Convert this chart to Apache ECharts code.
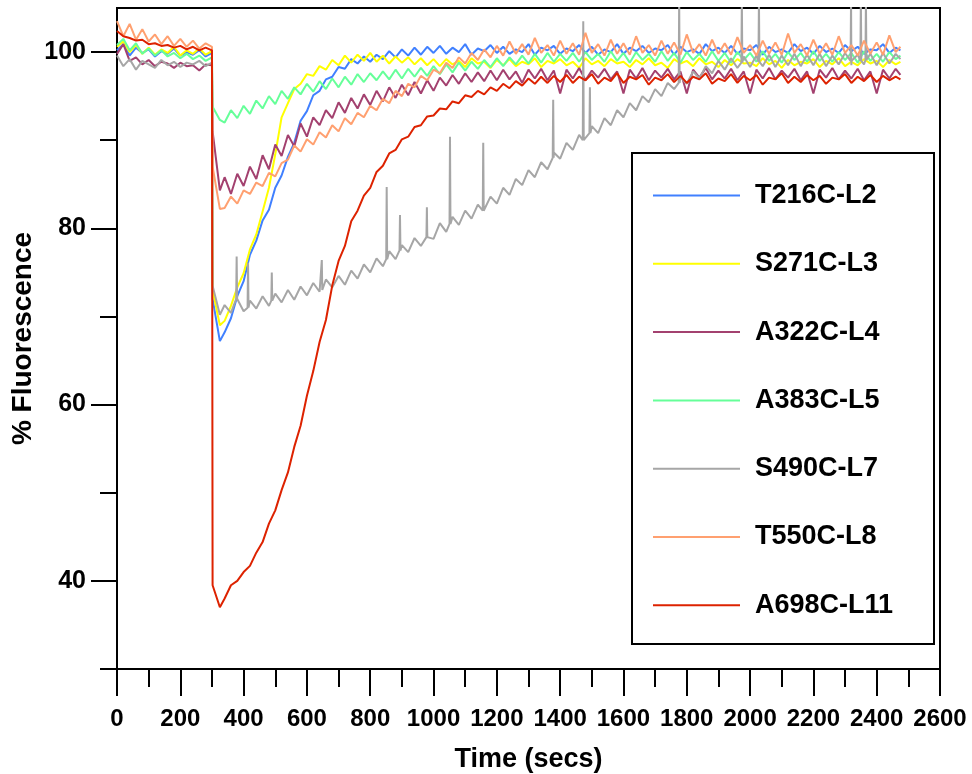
<!DOCTYPE html>
<html>
<head>
<meta charset="utf-8">
<script src="https://cdn.jsdelivr.net/npm/echarts@6/dist/echarts.min.js"></script>
<style>
html,body{margin:0;padding:0;background:#fff;}
#chart{width:972px;height:774px;}
</style>
</head>
<body>
<div id="chart"></div>
<script>
// Sample times (secs)
const times = [0,20,40,60,80,100,120,140,160,180,200,220,240,260,280,300,302,325,
340,360,380,400,420,440,460,480,500,520,540,560,580,600,620,640,660,680,700,720,740,760,780,800,820,840,860,880,900,920,940,960,980,1000,
1020,1040,1060,1080,1100,1120,1140,1160,1180,1200,1220,1240,1260,1280,1300,1320,1340,1360,1380,1400,
1420,1440,1460,1480,1500,1520,1540,1560,1580,1600,1620,1640,1660,1680,1700,1720,1740,1760,1780,1800,
1820,1840,1860,1880,1900,1920,1940,1960,1980,2000,2020,2040,2060,2080,2100,2120,2140,2160,2180,2200,
2220,2240,2260,2280,2300,2320,2340,2360,2380,2400,2420,2440,2460,2475];

const seriesNames = ['T216C-L2','S271C-L3','A322C-L4','A383C-L5','S490C-L7','T550C-L8','A698C-L11'];

const T216C = [100.2,100.9,99.6,100.5,99.9,100.3,99.5,100.1,99.8,100.4,99.6,100.0,99.7,100.2,99.5,99.9,
72.0,67.2,
68.2,69.8,72.3,74.0,77.0,78.6,80.9,82.1,84.6,86.0,
88.1,89.7,92.2,93.3,95.1,95.6,96.9,97.2,98.3,98.1,
99.2,98.7,99.5,98.9,99.7,99.2,100.1,99.4,100.3,99.6,
100.5,99.7,100.6,99.9,
100.7,99.8,100.5,100.0,100.9,99.7,100.4,100.1,100.8,99.9,100.6,99.8,100.3,100.0,100.9,99.7,100.5,100.2,100.7,99.8,
100.4,100.1,100.8,99.9,100.6,99.7,100.3,100.0,100.9,99.8,100.5,100.1,100.7,99.9,100.4,100.2,100.8,99.7,100.6,100.0,
100.3,99.8,100.9,100.1,100.5,99.9,100.7,99.8,100.4,100.2,100.8,99.7,100.6,100.0,100.3,99.9,100.9,100.1,100.5,99.8,
100.7,100.0,100.4,99.9,100.8,100.1,100.6,99.8,100.3,100.2,100.9,99.9,100.5,
100.2];

const S271C = [100.6,101.2,100.0,100.8,99.8,100.5,99.7,100.3,99.9,100.6,99.6,100.2,99.8,100.4,99.7,100.1,
73.0,69.0,
69.5,71.2,73.3,74.9,77.6,79.3,81.9,84.6,88.4,92.6,
94.2,95.8,96.4,97.5,97.3,98.4,98.0,99.1,98.5,99.6,
98.8,99.7,99.0,99.9,98.9,99.6,98.7,99.5,98.8,99.4,
98.6,99.3,98.5,99.2,
98.4,99.2,98.6,99.0,98.3,99.3,98.7,98.9,98.2,99.1,98.5,99.2,98.4,98.9,98.6,99.3,98.3,99.0,98.7,99.2,
98.5,98.9,98.2,99.3,98.6,99.0,98.4,99.2,98.7,98.9,98.3,99.1,98.6,99.3,98.5,98.8,98.2,99.2,98.7,99.0,
98.4,99.3,98.6,98.9,98.3,99.1,98.5,99.2,98.7,98.8,98.4,99.3,98.6,99.0,98.2,99.1,98.5,98.9,98.7,99.2,
98.3,99.0,98.6,99.3,98.4,98.9,98.5,99.2,98.7,99.0,98.3,99.1,98.6,
98.9];

const A322C = [99.8,100.9,99.0,99.4,98.6,99.1,98.4,98.9,98.7,98.2,98.8,98.4,98.5,97.9,98.6,98.5,
91.0,84.3,
85.8,83.9,86.2,84.8,87.0,85.6,88.3,86.7,89.5,88.2,
90.6,89.3,91.9,90.4,92.6,91.7,93.4,92.5,94.3,93.1,
94.8,93.6,95.2,94.0,95.6,94.4,96.0,94.8,96.3,95.1,
96.6,95.3,96.8,95.6,
97.1,96.2,97.4,96.4,97.6,96.6,97.7,96.7,97.9,96.8,98.0,96.9,97.8,96.5,98.0,97.0,98.1,96.8,97.9,95.3,
98.0,97.0,98.2,96.8,97.9,97.1,98.1,96.9,97.8,95.3,98.0,97.0,98.2,96.8,97.9,97.1,98.1,96.9,97.8,95.3,
98.0,97.1,98.2,96.9,97.9,97.0,98.1,96.8,97.8,95.3,98.0,97.0,98.2,96.9,97.9,97.1,98.1,96.8,97.8,95.3,
98.0,97.1,98.2,96.9,97.9,97.0,98.1,96.8,97.8,95.3,98.0,97.0,98.1,
97.4];

const A383C = [100.8,101.5,100.2,101.0,99.8,100.4,99.6,100.2,99.5,99.9,99.3,99.8,99.2,99.6,99.0,99.4,
93.8,92.3,
92.0,93.4,92.5,93.9,93.0,94.5,93.6,95.0,94.1,95.6,
94.7,96.0,95.2,96.4,95.5,96.7,95.8,97.0,96.0,97.2,
96.3,97.5,96.6,97.6,96.8,97.8,96.9,98.0,97.0,98.1,
97.2,98.2,97.3,98.4,
97.5,98.6,97.7,98.8,97.9,98.9,98.1,99.1,98.3,99.3,98.4,99.4,98.6,99.6,98.7,99.8,98.8,99.9,98.9,99.8,
99.0,99.9,98.9,100.0,99.1,99.8,98.9,100.1,99.0,99.9,98.8,100.0,99.1,99.8,98.9,100.1,99.0,99.9,98.8,100.0,
99.1,99.8,98.9,100.1,99.0,99.9,98.8,100.0,99.1,99.9,98.9,100.1,99.0,99.8,98.8,100.0,99.1,99.9,98.9,100.1,
99.0,99.8,98.9,100.0,99.1,99.9,98.8,100.1,99.0,99.8,98.9,100.0,99.2,
99.6];

const S490C = [99.6,98.4,99.2,98.0,99.0,98.6,98.2,99.1,98.5,98.9,98.3,98.8,98.6,99.0,98.4,98.8,
73.5,70.2,
71.3,70.4,72.0,70.6,71.8,70.9,72.3,71.2,72.6,71.6,
73.0,71.9,73.4,72.4,73.8,72.8,74.2,73.3,74.6,73.6,
75.2,74.3,75.9,75.0,76.6,75.7,77.4,76.5,78.1,77.3,
78.9,78.0,79.6,78.8,
80.6,79.6,81.3,80.4,82.0,81.1,82.7,81.9,83.6,82.8,84.6,83.8,85.6,84.9,86.6,85.8,87.5,86.7,88.6,87.9,
89.7,88.9,90.6,89.9,91.6,90.8,92.5,91.7,93.4,92.6,94.2,93.4,95.0,94.3,95.8,95.0,96.5,95.8,97.2,96.4,
97.8,97.0,98.4,97.6,99.0,98.0,99.3,98.2,99.5,98.3,99.6,98.4,99.7,98.3,99.6,98.5,99.8,98.4,99.7,98.5,
99.8,98.4,99.6,98.6,99.9,98.5,99.7,98.6,99.8,98.5,99.9,98.7,99.8,
99.2];
// S490C-L7 narrow spikes: [time, level beside spike, spike top]
const S490C_spikes = [[378,72.0,76.8],[414,71.0,76.1],[489,71.8,75.0],[647,73.0,76.4],[852,76.5,84.7],
[894,77.5,81.5],[979,79.0,82.4],[1052,80.5,90.4],[1157,82.0,89.7],[1378,88.0,94.6],[1473,90.0,103.5],
[1494,90.8,96.0],[1776,96.5,106],[1974,98.8,106],[2028,98.9,106],[2319,99.0,106],[2350,99.0,106],[2366,99.1,106]];

const T550C = [103.5,101.8,103.2,101.4,102.6,101.2,102.0,100.9,101.8,100.7,101.5,100.6,101.3,100.4,101.0,100.6,
87.0,82.2,
82.3,83.6,82.8,84.3,83.9,85.2,84.8,86.3,85.9,87.4,
87.8,89.4,88.7,90.1,89.5,90.9,90.3,91.7,91.0,92.5,
91.8,93.1,92.6,93.9,93.4,94.7,94.2,95.6,95.0,96.4,
96.0,97.3,96.8,98.0,
97.6,98.8,98.2,99.4,98.7,99.9,99.1,100.3,99.4,100.7,99.6,101.2,99.8,100.9,99.7,101.6,99.9,100.8,99.6,101.3,
99.8,101.0,99.7,102.2,99.9,100.9,99.6,101.4,99.8,101.0,99.7,101.8,99.9,100.8,99.6,101.3,99.8,101.1,99.7,102.0,
99.9,100.9,99.6,101.4,99.8,101.0,99.7,101.7,99.9,100.8,99.6,101.3,99.8,101.1,99.7,102.1,99.9,100.9,99.6,101.4,
99.8,101.0,99.7,101.8,99.9,100.8,99.6,101.3,99.8,101.1,99.7,101.9,100.0,
100.6];

const A698C = [102.4,101.8,101.6,101.3,101.4,100.9,101.0,100.7,100.8,100.5,100.7,100.3,100.6,100.2,100.5,100.2,
39.5,37.0,
38.0,39.5,40.0,41.0,41.7,43.2,44.4,46.5,48.0,50.3,
52.3,55.2,57.6,61.0,63.8,67.1,69.6,73.5,76.3,78.0,
80.8,82.0,83.7,84.6,86.4,87.1,88.5,88.9,90.1,90.4,
91.5,91.7,92.7,92.8,
93.6,93.5,94.4,94.2,95.1,94.9,95.6,95.2,96.0,95.6,96.4,95.9,96.7,96.2,97.0,96.4,97.2,96.5,97.3,96.6,
97.4,96.5,97.2,96.8,97.5,96.4,97.1,96.7,97.6,96.5,97.2,96.9,97.4,96.3,97.1,96.8,97.5,96.6,97.3,96.5,
97.2,96.9,97.6,96.4,97.0,96.7,97.5,96.5,97.3,96.8,97.4,96.3,97.1,96.9,97.6,96.5,97.2,96.6,97.4,96.8,
97.3,96.4,97.1,96.9,97.5,96.5,97.2,96.7,97.4,96.6,97.3,96.8,97.2,
96.9];

const xTicks = {min: 0, max: 2600, step: 200};
const yMinorTicks = [30, 50, 70, 90];
const yMajorTicks = [40, 60, 80, 100];

const valueSets = [T216C, S271C, A322C, A383C, S490C, T550C, A698C];
const colors = ['#4080ff', '#ffff00', '#a3416f', '#66ff99', '#a6a6a6', '#ffa070', '#dd2200'];
valueSets.forEach((v, k) => { if (v.length !== times.length) console.error(seriesNames[k] + ' length ' + v.length + ' vs ' + times.length); });

function buildData(vals, spikes) {
  const d = times.map((t, i) => [t, vals[i]]);
  if (spikes) {
    spikes.forEach(s => { d.push([s[0] - 1.5, s[1]], [s[0], s[2]], [s[0] + 1.5, s[1]]); });
    d.sort((a, b) => a[0] - b[0]);
  }
  return d;
}

const FONT = '"Liberation Sans", Arial, sans-serif';
const black = '#000';

const chart = echarts.init(document.getElementById('chart'), null, {renderer: 'canvas'});
chart.setOption({
  animation: false,
  backgroundColor: '#fff',
  grid: {left: 117, right: 32, top: 8, bottom: 105, outerBoundsMode: 'none', containLabel: false,
    show: true, borderColor: black, borderWidth: 2, backgroundColor: 'transparent'},
  xAxis: {
    type: 'value', min: xTicks.min, max: xTicks.max, interval: xTicks.step,
    name: 'Time (secs)', nameLocation: 'middle', nameGap: 77,
    nameTextStyle: {fontFamily: FONT, fontWeight: 'bold', fontSize: 27, color: black},
    axisLine: {show: true, onZero: false, lineStyle: {color: black, width: 2}},
    axisTick: {show: true, length: 27, lineStyle: {color: black, width: 2}},
    minorTick: {show: true, splitNumber: 2, length: 18, lineStyle: {color: black, width: 2}},
    axisLabel: {margin: 38, fontFamily: FONT, fontWeight: 'bold', fontSize: 24, color: black, showMaxLabel: true, showMinLabel: true,
      formatter: v => String(v)},
    splitLine: {show: false}
  },
  yAxis: [{
    type: 'value', min: 30, max: 105, position: 'left',
    name: '% Fluorescence', nameLocation: 'middle', nameGap: 80, nameRotate: 90, nameMoveOverlap: false,
    nameTextStyle: {fontFamily: FONT, fontWeight: 'bold', fontSize: 28, color: black},
    axisLine: {show: true, onZero: false, lineStyle: {color: black, width: 2}},
    axisTick: {show: true, length: 17, customValues: yMinorTicks, lineStyle: {color: black, width: 2}},
    axisLabel: {margin: 31, customValues: yMajorTicks, fontFamily: FONT, fontWeight: 'bold', fontSize: 25, color: black,
      formatter: v => String(v)},
    splitLine: {show: false}
  }, {
    type: 'value', min: 30, max: 105, position: 'left', offset: 0,
    axisLine: {show: false},
    axisTick: {show: true, length: 26, customValues: yMajorTicks, lineStyle: {color: black, width: 2}},
    axisLabel: {show: false},
    splitLine: {show: false}
  }],
  legend: {
    orient: 'vertical', left: 648, top: 177,
    icon: 'rect', itemWidth: 87, itemHeight: 2, itemGap: 41.3,
    data: seriesNames,
    textStyle: {fontFamily: FONT, fontWeight: 'bold', fontSize: 27, color: black, padding: [0, 0, 0, 10], lineHeight: 27},
    z: 10
  },
  graphic: [{
    type: 'rect', left: 631, top: 152, z: 5,
    shape: {width: 302, height: 491},
    style: {fill: '#fff', stroke: black, lineWidth: 2}
  }],
  series: seriesNames.map((name, k) => ({
    name: name, type: 'line', xAxisIndex: 0, yAxisIndex: 0,
    data: buildData(valueSets[k], k === 4 ? S490C_spikes : null),
    showSymbol: false, symbol: 'none', clip: true,
    lineStyle: {color: colors[k], width: 2},
    itemStyle: {color: colors[k]},
    z: 2 + k * 0.01
  }))
});
</script>
</body>
</html>
